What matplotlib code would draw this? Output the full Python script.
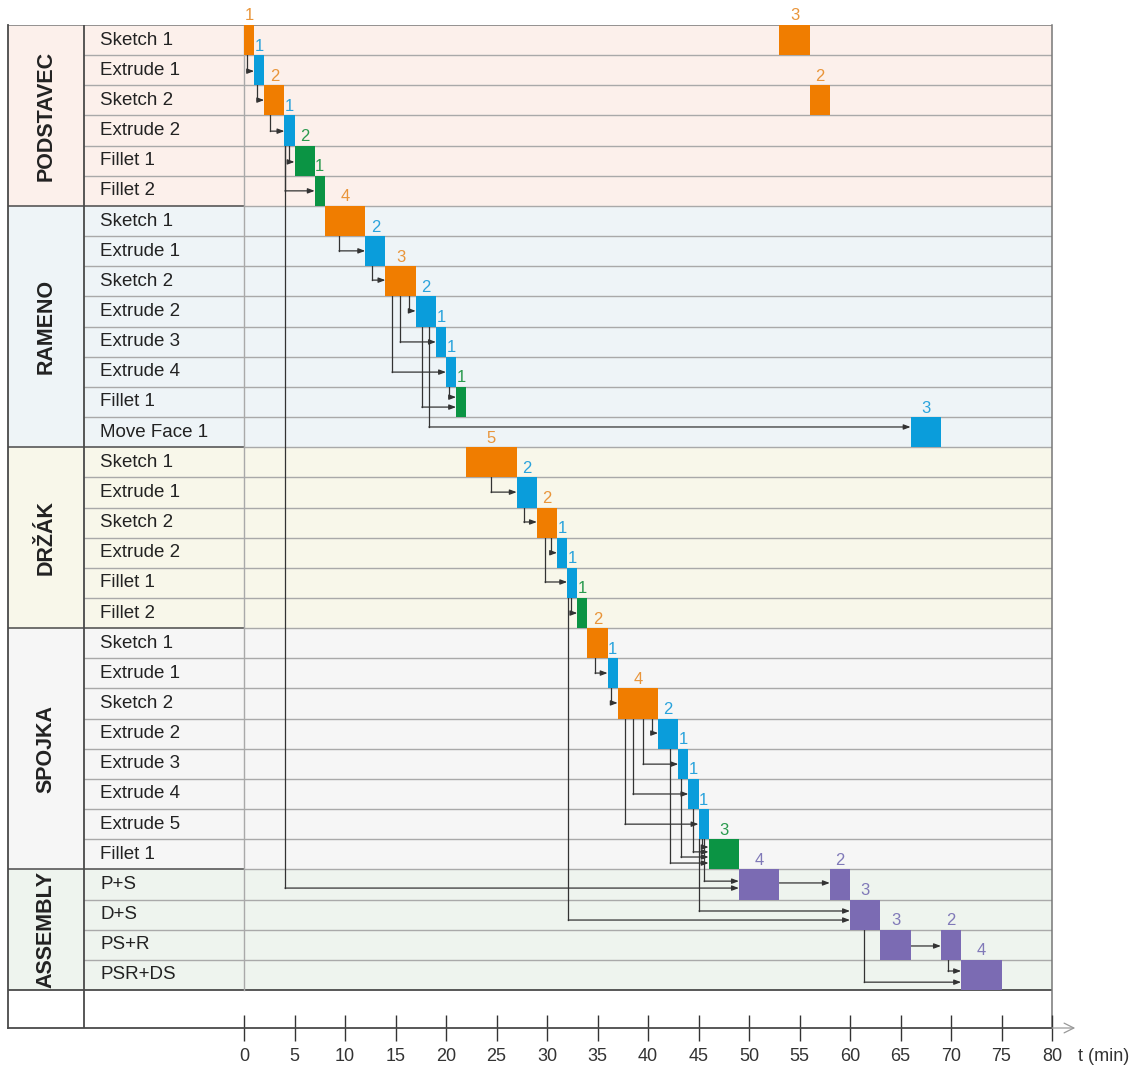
import matplotlib.pyplot as plt

plt.rcParams['font.family'] = ['Liberation Sans', 'DejaVu Sans']

# groups and tasks (rows from top)
groups = ['PODSTAVEC', 'RAMENO', 'DRŽÁK', 'SPOJKA', 'ASSEMBLY']
group_sizes = [6, 8, 6, 8, 4]
group_bg = ['#fcf0eb', '#eef4f7', '#f8f7ea', '#f6f6f6', '#eef4ee']
tasks = ['Sketch 1', 'Extrude 1', 'Sketch 2', 'Extrude 2', 'Fillet 1', 'Fillet 2',
         'Sketch 1', 'Extrude 1', 'Sketch 2', 'Extrude 2', 'Extrude 3', 'Extrude 4', 'Fillet 1', 'Move Face 1',
         'Sketch 1', 'Extrude 1', 'Sketch 2', 'Extrude 2', 'Fillet 1', 'Fillet 2',
         'Sketch 1', 'Extrude 1', 'Sketch 2', 'Extrude 2', 'Extrude 3', 'Extrude 4', 'Extrude 5', 'Fillet 1',
         'P+S', 'D+S', 'PS+R', 'PSR+DS']

# bars: row, start (min), duration (min), kind
bar_rows = [0, 1, 2, 3, 4, 5,
            6, 7, 8, 9, 10, 11, 12,
            14, 15, 16, 17, 18, 19,
            20, 21, 22, 23, 24, 25, 26, 27,
            28, 0, 2, 28, 29, 30, 13, 30, 31]
bar_start = [0, 1, 2, 4, 5, 7,
             8, 12, 14, 17, 19, 20, 21,
             22, 27, 29, 31, 32, 33,
             34, 36, 37, 41, 43, 44, 45, 46,
             49, 53, 56, 58, 60, 63, 66, 69, 71]
bar_dur = [1, 1, 2, 1, 2, 1,
           4, 2, 3, 2, 1, 1, 1,
           5, 2, 2, 1, 1, 1,
           2, 1, 4, 2, 1, 1, 1, 3,
           4, 3, 2, 2, 3, 3, 3, 2, 4]
bar_kind = ['s', 'e', 's', 'e', 'f', 'f',
            's', 'e', 's', 'e', 'e', 'e', 'f',
            's', 'e', 's', 'e', 'e', 'f',
            's', 'e', 's', 'e', 'e', 'e', 'e', 'f',
            'a', 's', 's', 'a', 'a', 'a', 'e', 'a', 'a']

bar_col = {'s': '#f07d00', 'e': '#0a9ddb', 'f': '#0b9444', 'a': '#7b6bb3'}
lab_col = {'s': '#e9953a', 'e': '#2aa3dc', 'f': '#2a9a4e', 'a': '#8079b8'}

# dependency links: source row, x of drop line, target row, y of arrow, target start
link_src = [0, 1, 2, 3, 3, 3,
            6, 7, 8, 8, 8, 9, 9, 11,
            14, 15, 16, 16, 18, 18,
            20, 21, 22, 22, 22, 22, 23, 24, 25, 26, 26, 26,
            28, 30, 29, 30]
link_x = [0.3, 1.3, 2.6, 4.45, 4.05, 4.05,
          9.4, 12.7, 16.3, 15.45, 14.65, 17.6, 18.3, 20.3,
          24.45, 27.7, 30.4, 29.8, 32.4, 32.1,
          34.75, 36.35, 40.4, 39.5, 38.5, 37.7, 42.2, 43.25, 44.45, 45.35, 45.55, 45.05,
          53, 66, 61.4, 69.7]
link_dst = [1, 2, 3, 4, 5, 28,
            7, 8, 9, 10, 11, 12, 13, 12,
            15, 16, 17, 18, 19, 29,
            21, 22, 23, 24, 25, 26, 27, 27, 27, 27, 28, 29,
            28, 30, 31, 31]
link_y = [1.53, 2.49, 3.52, 4.54, 5.5, 28.62,
          7.49, 8.46, 9.48, 10.51, 11.51, 12.67, 13.33, 12.34,
          15.49, 16.48, 17.5, 18.47, 19.5, 29.68,
          21.49, 22.48, 23.48, 24.51, 25.5, 26.5, 27.79, 27.59, 27.42, 27.26, 28.39, 29.38,
          28.45, 30.54, 31.74, 31.37]
link_to = [1, 2, 4, 5, 7, 49,
           12, 14, 17, 19, 20, 21, 66, 21,
           27, 29, 31, 32, 33, 60,
           36, 37, 41, 43, 44, 45, 46, 46, 46, 46, 49, 60,
           58, 69, 71, 71]

xticks = list(range(0, 81, 5))

X0 = -23.37      # left border
XN = -15.84      # name column
NROWS = len(tasks)
YB = 33.26       # bottom of table (incl. empty row)

fig = plt.figure(figsize=(11.38, 10.68), dpi=100)
ax = fig.add_axes([8 / 1138, 1 - 1028 / 1068, 1044 / 1138, 1003 / 1068])
ax.set_xlim(X0, 80)
ax.set_ylim(YB, 0)

grid = '#a9a9a9'
dark = '#4a4a4a'

# group backgrounds and labels
r = 0
bounds = []
for g, n, bg in zip(groups, group_sizes, group_bg):
    ax.axhspan(r, r + n, color=bg, lw=0, zorder=0)
    ax.text((X0 + XN) / 2, r + n / 2, g, rotation=90, ha='center', va='center',
            fontsize=15.5, fontweight='bold', color='#222222')
    r += n
    bounds.append(r)

# row lines
for i in range(1, NROWS):
    if i in bounds:
        ax.plot([X0, 0], [i, i], color=dark, lw=1.1, zorder=1)
        ax.plot([0, 80], [i, i], color=grid, lw=1.0, zorder=1)
    else:
        ax.plot([XN, 80], [i, i], color=grid, lw=1.0, zorder=1)
ax.plot([X0, 80], [0, 0], color='#777777', lw=1.1, zorder=1)
ax.plot([X0, 80], [NROWS, NROWS], color=dark, lw=1.3, zorder=1)
ax.plot([X0, 80], [YB, YB], color=dark, lw=1.3, zorder=3, clip_on=False)
ax.annotate('', xy=(82.3, YB), xytext=(80, YB), annotation_clip=False,
            arrowprops=dict(arrowstyle='->,head_length=0.7,head_width=0.35', color='#999999',
                            lw=0.9, shrinkA=0, shrinkB=0, mutation_scale=10))

# vertical lines
ax.plot([X0, X0], [0, YB], color=dark, lw=1.3, zorder=1, clip_on=False)
ax.plot([XN, XN], [0, YB], color=dark, lw=1.3, zorder=1)
ax.plot([0, 0], [0, NROWS], color=grid, lw=1.0, zorder=1)
ax.plot([80, 80], [0, YB], color='#777777', lw=1.1, zorder=1, clip_on=False)

# task names
for i, t in enumerate(tasks):
    ax.text(-14.26, i + 0.5, t, ha='left', va='center', fontsize=13.5, color='#222222')

# bars with duration labels
for row, s, d, k in zip(bar_rows, bar_start, bar_dur, bar_kind):
    ax.barh(row + 0.5, d, left=s, height=1, color=bar_col[k], lw=0, zorder=4)
    ax.text(s + d / 2, row - 0.05, str(d), ha='center', va='bottom',
            fontsize=12, color=lab_col[k], zorder=5)

# dependency arrows
for s, x, d, y, t in zip(link_src, link_x, link_dst, link_y, link_to):
    y0 = y if s == d else s + 1
    ax.plot([x, x], [y0, y], color='#333333', lw=0.9, zorder=3)
    ax.annotate('', xy=(t, y), xytext=(x, y),
                arrowprops=dict(arrowstyle='-|>,head_length=0.4,head_width=0.15',
                                color='#333333', lw=0.9, shrinkA=0, shrinkB=0,
                                mutation_scale=10), zorder=3)

# time axis
ax.set_xticks(xticks)
ax.set_yticks([])
ax.tick_params(axis='x', direction='inout', length=18.7, width=1.0, color='#333333',
               labelsize=13, labelcolor='#333333', pad=5)
for sp in ax.spines.values():
    sp.set_visible(False)
ax.text(82.6, 34.22, 't (min)', ha='left', va='center', fontsize=13, color='#333333')

fig.savefig('out.png', dpi=100)
